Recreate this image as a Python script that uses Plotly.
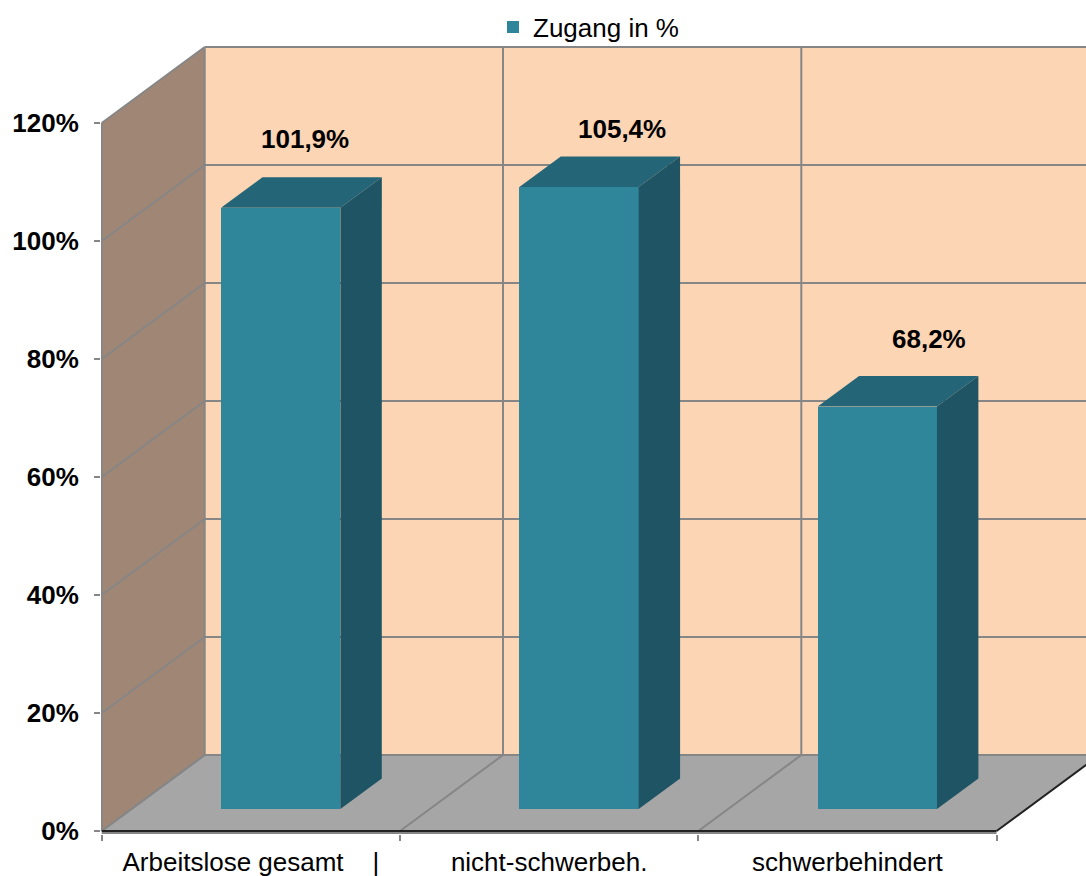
import plotly.graph_objects as go

# ---------------- data ----------------
categories = ["Arbeitslose gesamt\u00a0\u00a0\u00a0\u00a0|", "nicht-schwerbeh.", "schwerbehindert"]
values = [101.9, 105.4, 68.2]
series_name = "Zugang in %"
y_ticks = [0, 20, 40, 60, 80, 100, 120]
y_tick_labels = ["0%", "20%", "40%", "60%", "80%", "100%", "120%"]

# ---------------- layout / style constants ----------------
FIG_W, FIG_H = 1086, 876
ML, MR, MT, MB = 101, 0, 40, 42
X0_PX, Y0_PX = 101.7, 831.0          # pixel of x=0 / y=0 on the front plane
CAT_PX, PCT_PX = 298.3, 5.9          # px per category / px per percent
DX = 103.0 / CAT_PX                  # depth offset (x units)
DY = 76.0 / PCT_PX                   # depth offset (y units)
D_FRONT, D_BACK = 0.29, 0.692        # bar depth position
BAR_W = 0.4
YMAX_WALL = y_ticks[-1]
N = len(categories)

C_WALL = "#FCD5B5"
C_SIDE = "#A08675"
C_FLOOR = "#A6A6A6"
C_GRID = "#868686"
C_FRONT = "#2F8599"
C_TOP = "#246577"
C_RSIDE = "#1F5464"
FONT = "Liberation Sans, Arial, sans-serif"
LABEL_NUDGE = [(4, 54), (22, 43), (31, 52)]  # px nudges of data labels

xmin = (ML - X0_PX) / CAT_PX
xmax = (FIG_W - MR - X0_PX) / CAT_PX
ymin = (Y0_PX - (FIG_H - MB)) / PCT_PX
ymax = (Y0_PX - MT) / PCT_PX


def P(x, y, d):
    return x + d * DX, y + d * DY


def path(points):
    s = "M " + " L ".join(f"{x},{y}" for x, y in points) + " Z"
    return s


shapes = []
# back wall
shapes.append(dict(type="rect", xref="x", yref="y", layer="below",
                   x0=DX, x1=N + DX, y0=DY, y1=YMAX_WALL + DY,
                   fillcolor=C_WALL, line=dict(width=0)))
# side wall
shapes.append(dict(type="path", xref="x", yref="y", layer="below",
                   path=path([P(0, 0, 0), P(0, YMAX_WALL, 0), P(0, YMAX_WALL, 1), P(0, 0, 1)]),
                   fillcolor=C_SIDE, line=dict(width=0)))
# floor
shapes.append(dict(type="path", xref="x", yref="y", layer="below",
                   path=path([P(0, 0, 0), P(N, 0, 0), P(N, 0, 1), P(0, 0, 1)]),
                   fillcolor=C_FLOOR, line=dict(width=0)))


def seg(p1, p2, color=C_GRID, width=2):
    shapes.append(dict(type="line", xref="x", yref="y", layer="below",
                       x0=p1[0], y0=p1[1], x1=p2[0], y1=p2[1],
                       line=dict(color=color, width=width)))


for t in y_ticks:
    seg(P(0, t, 1), P(N, t, 1))          # back wall horizontal grid
    seg(P(0, t, 0), P(0, t, 1))          # side wall diagonal grid
for i in range(N + 1):
    seg(P(i, 0, 1), P(i, YMAX_WALL, 1))  # back wall vertical grid
    if i < N:
        seg(P(i, 0, 0), P(i, 0, 1))      # floor diagonal grid
# y axis line (front)
seg((0, 0), (0, YMAX_WALL))
# x axis line just below floor edge
seg((0, -2 / PCT_PX), (N, -2 / PCT_PX))
# floor edges
seg(P(0, 0, 0), P(N, 0, 0), color="#222222", width=2)
seg(P(N, 0, 0), P(N, 0, 1), color="#222222", width=2)

fig = go.Figure()

centers = [i + 0.5 for i in range(N)]
fx, fbase = P(0, 0, D_FRONT)
fig.add_trace(go.Bar(
    x=[c + fx for c in centers], y=values, base=fbase, width=BAR_W,
    marker=dict(color=C_FRONT, line=dict(width=0)), name=series_name,
    showlegend=True, hoverinfo="skip"))

ddx = (D_BACK - D_FRONT) * DX
ddy = (D_BACK - D_FRONT) * DY
for c, v in zip(centers, values):
    xl = c - BAR_W / 2 + fx
    xr = c + BAR_W / 2 + fx
    top = v + fbase
    # top face
    fig.add_trace(go.Scatter(
        x=[xl, xr, xr + ddx, xl + ddx, xl], y=[top, top, top + ddy, top + ddy, top],
        fill="toself", fillcolor=C_TOP, mode="lines", line=dict(width=0),
        showlegend=False, hoverinfo="skip"))
    # right side face
    fig.add_trace(go.Scatter(
        x=[xr, xr + ddx, xr + ddx, xr, xr], y=[fbase, fbase + ddy, top + ddy, top, fbase],
        fill="toself", fillcolor=C_RSIDE, mode="lines", line=dict(width=0),
        showlegend=False, hoverinfo="skip"))

annotations = []
for c, v, (nx, ny) in zip(centers, values, LABEL_NUDGE):
    ax_, ay_ = P(c, v, 0.49)
    annotations.append(dict(
        x=ax_, y=ay_, xref="x", yref="y", showarrow=False,
        text=f"{v:.1f}".replace(".", ",") + "%", xanchor="center", yanchor="middle",
        xshift=nx, yshift=ny,
        font=dict(family=FONT, size=26, color="black", weight="bold")))

leg_x = (493 - ML) / (FIG_W - ML - MR)
leg_y = 1 + (MT - 27) / (FIG_H - MT - MB)

fig.update_layout(
    width=FIG_W, height=FIG_H,
    margin=dict(l=ML, r=MR, t=MT, b=MB, pad=0, autoexpand=False),
    paper_bgcolor="white", plot_bgcolor="white",
    font=dict(family=FONT, size=26, color="black"),
    shapes=shapes, annotations=annotations,
    hovermode=False,
    showlegend=True,
    legend=dict(orientation="h", x=leg_x, xanchor="left", y=leg_y, yanchor="middle",
                font=dict(family=FONT, size=26, color="black"),
                bgcolor="rgba(0,0,0,0)", itemclick=False),
    bargap=0,
    xaxis=dict(range=[xmin, xmax], tickmode="array", tickvals=centers, ticktext=categories,
               ticks="", showgrid=False, zeroline=False, showline=False, automargin=False,
               tickfont=dict(family=FONT, size=26, color="black"),
               ticklabelstandoff=10,
               minor=dict(tickmode="array", tickvals=list(range(N + 1)), ticks="outside",
                          ticklen=6, tickwidth=2, tickcolor=C_GRID, showgrid=False),
               fixedrange=True),
    yaxis=dict(range=[ymin, ymax], tickmode="array", tickvals=y_ticks, ticktext=y_tick_labels,
               ticks="outside", ticklen=6, tickwidth=2, tickcolor=C_GRID,
               showgrid=False, zeroline=False, showline=False, automargin=False,
               tickfont=dict(family=FONT, size=26, color="black", weight="bold"),
               ticklabelstandoff=10, fixedrange=True),
)

fig.write_html("out.html", config={"displayModeBar": False},
               post_script="document.body.style.margin='0';document.body.style.overflow='hidden';")
